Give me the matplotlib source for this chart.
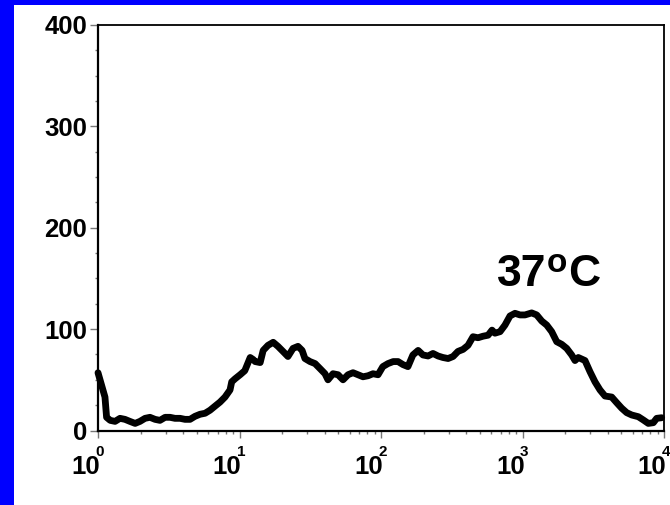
import matplotlib
matplotlib.use("Agg")
import matplotlib.pyplot as plt
from matplotlib.patches import Rectangle
from matplotlib.ticker import FixedLocator, LogLocator, NullFormatter

# Histogram of fluorescence intensity (log scale) vs. event count
intensity = [1.0, 1.12, 1.15, 1.22, 1.32, 1.43, 1.55, 1.68, 1.83, 1.98, 2.15, 2.33,
             2.53, 2.74, 2.98, 3.23, 3.50, 3.80, 4.12, 4.47, 4.85, 5.26, 5.71, 6.19,
             6.71, 7.28, 7.90, 8.57, 8.81, 9.30, 10.1, 10.9, 11.9, 12.5, 12.9, 14.0,
             14.7, 15.9, 17.3, 18.7, 20.3, 22.0, 23.9, 25.9, 27.7, 29.0, 31.5, 34.2,
             37.1, 40.2, 42.2, 45.8, 49.7, 53.9, 58.5, 63.4, 68.8, 74.6, 81.0, 87.8,
             95.3, 103, 112, 122, 132, 143, 155, 168, 183, 198, 215, 233, 253, 274,
             298, 323, 350, 380, 412, 447, 485, 526, 571, 609, 639, 694, 752, 816,
             885, 960, 1041, 1161, 1260, 1367, 1483, 1608, 1745, 1893, 2053, 2227,
             2350, 2480, 2765, 2999, 3253, 3529, 3828, 4270, 4632, 5024, 5450, 5912,
             6584, 7142, 7745, 8403, 8879, 9632]
counts = [57, 33, 13, 10, 9, 12, 11, 9, 7, 9, 12, 13,
          11, 10, 13, 13, 12, 12, 11, 11, 14, 16, 17, 20,
          24, 28, 33, 40, 48, 51, 55, 59, 72, 70, 68, 67,
          79, 84, 87, 83, 78, 73, 81, 83, 79, 71, 68, 66,
          61, 56, 50, 56, 55, 50, 55, 57, 55, 53, 54, 56,
          55, 63, 66, 68, 68, 65, 63, 74.5, 79, 74.5, 73.5, 76, 73.5, 72,
          71, 73, 78, 80, 84, 92.5, 91.5, 93, 94, 99, 96, 97.5, 104, 113,
          115.6, 114, 114, 116, 114, 108, 104, 97.5, 87.6, 85, 81, 74.5,
          69, 72, 69, 58, 48, 40, 34, 33, 27.4, 22, 17.6, 15.3,
          13.6, 10.4, 7, 7.7, 12, 12.6]

y_major = [0, 100, 200, 300, 400]
y_minor = [25, 50, 75, 125, 150, 175, 225, 250, 275, 325, 350, 375]
x_decades = [1, 10, 100, 1000, 10000]
x_exponents = ["0", "1", "2", "3", "4"]
temp_parts = ["37", "o", "C"]
label_pos = (660, 143)

FONT = "Liberation Sans"

fig = plt.figure(figsize=(6.7, 5.05), dpi=100)
fig.patch.set_facecolor("white")
# blue frame strips along the left and top edges
fig.add_artist(Rectangle((0, 0), 14 / 670, 1, transform=fig.transFigure,
                         facecolor="#0000FF", edgecolor="none", zorder=0))
fig.add_artist(Rectangle((0, 1 - 5 / 505), 1, 5 / 505, transform=fig.transFigure,
                         facecolor="#0000FF", edgecolor="none", zorder=0))

ax = fig.add_axes([98 / 670, 74.5 / 505, 566 / 670, 405.5 / 505])
ax.plot(intensity, counts, color="black", lw=4.9, solid_joinstyle="round",
        solid_capstyle="round", clip_on=False, zorder=3)

ax.set_xscale("log")
ax.set_xlim(1, 10000)
ax.set_ylim(0, 400)

for side in ["left", "bottom"]:
    ax.spines[side].set_linewidth(1.6)
for side in ["top", "right"]:
    ax.spines[side].set_linewidth(1.3)

ax.yaxis.set_major_locator(FixedLocator(y_major))
ax.yaxis.set_minor_locator(FixedLocator(y_minor))
ax.set_yticklabels([str(v) for v in y_major], fontfamily=FONT,
                   fontweight="bold", fontsize=18.5)
ax.tick_params(axis="y", which="major", length=5.5, width=1.0, color="#777777",
               direction="out", pad=2.2)
ax.tick_params(axis="y", which="minor", length=2.5, width=1.0, color="#777777",
               direction="out")

ax.xaxis.set_major_locator(FixedLocator(x_decades))
ax.xaxis.set_minor_locator(LogLocator(base=10, subs=range(2, 10), numticks=20))
ax.xaxis.set_major_formatter(NullFormatter())
ax.xaxis.set_minor_formatter(NullFormatter())
ax.tick_params(axis="x", which="major", length=4.8, width=1.0, color="#777777",
               direction="out")
ax.tick_params(axis="x", which="minor", length=2.4, width=1.0, color="#777777",
               direction="out")

# decade labels: "10" with the exponent set above its last digit
for xv, ex in zip(x_decades, x_exponents):
    ax.annotate("10", xy=(xv, 0), xycoords=("data", "axes fraction"),
                xytext=(2, -43), textcoords="offset pixels", ha="right",
                va="baseline", fontfamily=FONT, fontweight="bold",
                fontsize=18.5, annotation_clip=False)
    ax.annotate(ex, xy=(xv, 0), xycoords=("data", "axes fraction"),
                xytext=(1.5, -25.5), textcoords="offset pixels", ha="center",
                va="baseline", fontfamily=FONT, fontweight="bold",
                fontsize=11, annotation_clip=False, zorder=4)

# temperature label: "37", raised "o", then "C" on the same baseline as "37"
t37 = ax.text(label_pos[0], label_pos[1], temp_parts[0], ha="left",
              va="baseline", fontfamily=FONT, fontweight="bold", fontsize=32)
ax.annotate(temp_parts[1], xy=(1, 0), xycoords=t37, xytext=(0.5, 16),
            textcoords="offset pixels", ha="left", va="bottom",
            fontfamily=FONT, fontweight="bold", fontsize=24)
ax.annotate(temp_parts[2], xy=(1, 0), xycoords=t37, xytext=(21.5, 0),
            textcoords="offset pixels", ha="left", va="bottom",
            fontfamily=FONT, fontweight="bold", fontsize=32)

fig.savefig("out.png", dpi=100, facecolor=fig.get_facecolor())
